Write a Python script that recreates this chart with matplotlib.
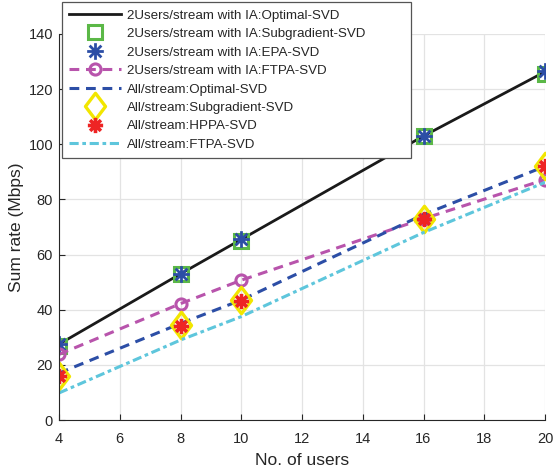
#! /usr/bin/python3
"""Sum rate against number of users for the IA and all-stream schemes."""

import numpy
import matplotlib
matplotlib.use("Agg")
import matplotlib.pyplot as plt
from matplotlib.path import Path

users = [4, 8, 10, 16, 20]

# 2 users per stream with interference alignment
ia_optimal = [27.5, 53, 65.5, 103, 126.3]
ia_subgradient = [27, 53, 65, 103, 125.5]
ia_epa = [27.5, 53, 65.5, 103, 126.5]
ia_ftpa = [23.8, 42.2, 50.7, 73, 87.2]

# all users per stream
all_optimal = [17, 35, 43.5, 74.5, 92]
all_subgradient = [16, 34.5, 43.5, 73, 92.3]
all_hppa = [16, 34.2, 43.2, 72.8, 92]
all_ftpa = [9.8, 29, 37.5, 68, 86.2]

labels = ["2Users/stream with IA:Optimal-SVD",
          "2Users/stream with IA:Subgradient-SVD",
          "2Users/stream with IA:EPA-SVD",
          "2Users/stream with IA:FTPA-SVD",
          "All/stream:Optimal-SVD",
          "All/stream:Subgradient-SVD",
          "All/stream:HPPA-SVD",
          "All/stream:FTPA-SVD"]


def asterisk():
  """Eight spoke asterisk like the matlab '*' marker."""
  verts = []
  codes = []
  for angle in numpy.deg2rad([0, 45, 90, 135]):
    c, s = numpy.cos(angle), numpy.sin(angle)
    verts += [(c, s), (-c, -s)]
    codes += [Path.MOVETO, Path.LINETO]
  return Path(verts, codes)


diamond = Path([(0, 1), (0.76, 0), (0, -1), (-0.76, 0), (0, 1)],
               [Path.MOVETO, Path.LINETO, Path.LINETO, Path.LINETO,
                Path.CLOSEPOLY])

plt.rcParams["font.family"] = ["Liberation Sans", "DejaVu Sans"]
text_color = "#262626"

fig = plt.figure(figsize=(5.53, 4.72), dpi=100)
ax = fig.add_axes([59 / 553, 52 / 472, 486 / 553, 386 / 472])

ax.plot(users, ia_optimal, color="#1a1a1a", lw=2.0, label=labels[0])
ax.plot(users, ia_subgradient, ls="none", marker="s", ms=10.5, mew=2.2,
        mfc="none", mec="#5bb847", label=labels[1])
ax.plot(users, ia_epa, ls="none", marker=asterisk(), ms=12, mew=2.0,
        mfc="none", mec="#2c4ea6", label=labels[2])
ax.plot(users, ia_ftpa, color="#b854ac", ls=(0, (3.2, 2.2)), lw=2.2,
        marker="o", ms=8, mew=2.2, mfc="none", mec="#b854ac",
        label=labels[3])
ax.plot(users, all_optimal, color="#2c4ea6", ls=(0, (3.2, 2.2)), lw=2.2,
        label=labels[4])
ax.plot(users, all_subgradient, ls="none", marker=diamond, ms=19,
        mew=2.4, mfc="none", mec="#f2e600", label=labels[5])
ax.plot(users, all_hppa, ls="none", marker=asterisk(), ms=11, mew=2.6,
        mfc="none", mec="#ee2424", label=labels[6])
ax.plot(users, all_ftpa, color="#5ec6dc", ls=(0, (3.0, 1.2, 1.2, 1.2)),
        lw=2.2, label=labels[7])

ax.set_xlim(4, 20)
ax.set_ylim(0, 140)
ax.set_xticks(range(4, 21, 2))
ax.set_yticks(range(0, 141, 20))
ax.grid(True, color="#e3e3e3", lw=0.9)
ax.set_axisbelow(True)
for side in ["top", "right"]:
  ax.spines[side].set_visible(False)
for side in ["left", "bottom"]:
  ax.spines[side].set_color(text_color)
  ax.spines[side].set_linewidth(0.8)
ax.tick_params(direction="in", length=4, width=0.8, color=text_color,
               labelcolor=text_color, labelsize=10.5)
ax.tick_params(axis="x", pad=8.5)
ax.tick_params(axis="y", pad=4.3)

ax.set_xlabel("No. of users", fontsize=12.5, color=text_color, labelpad=5)
ax.set_ylabel("Sum rate (Mbps)", fontsize=12.5, color=text_color,
              labelpad=3)

leg = ax.legend(loc="upper left", mode="expand",
                bbox_to_anchor=(62 / 553, 1 - 157 / 472, 349 / 553,
                                155 / 472),
                bbox_transform=fig.transFigure, fontsize=9.6,
                handlelength=3.9, handletextpad=0.4, labelspacing=0.46,
                borderpad=0.55, borderaxespad=0, numpoints=1,
                fancybox=False, framealpha=1, edgecolor="#555555")
leg.get_frame().set_linewidth(0.9)
for text in leg.get_texts():
  text.set_color(text_color)

fig.savefig("out.png", dpi=100)
